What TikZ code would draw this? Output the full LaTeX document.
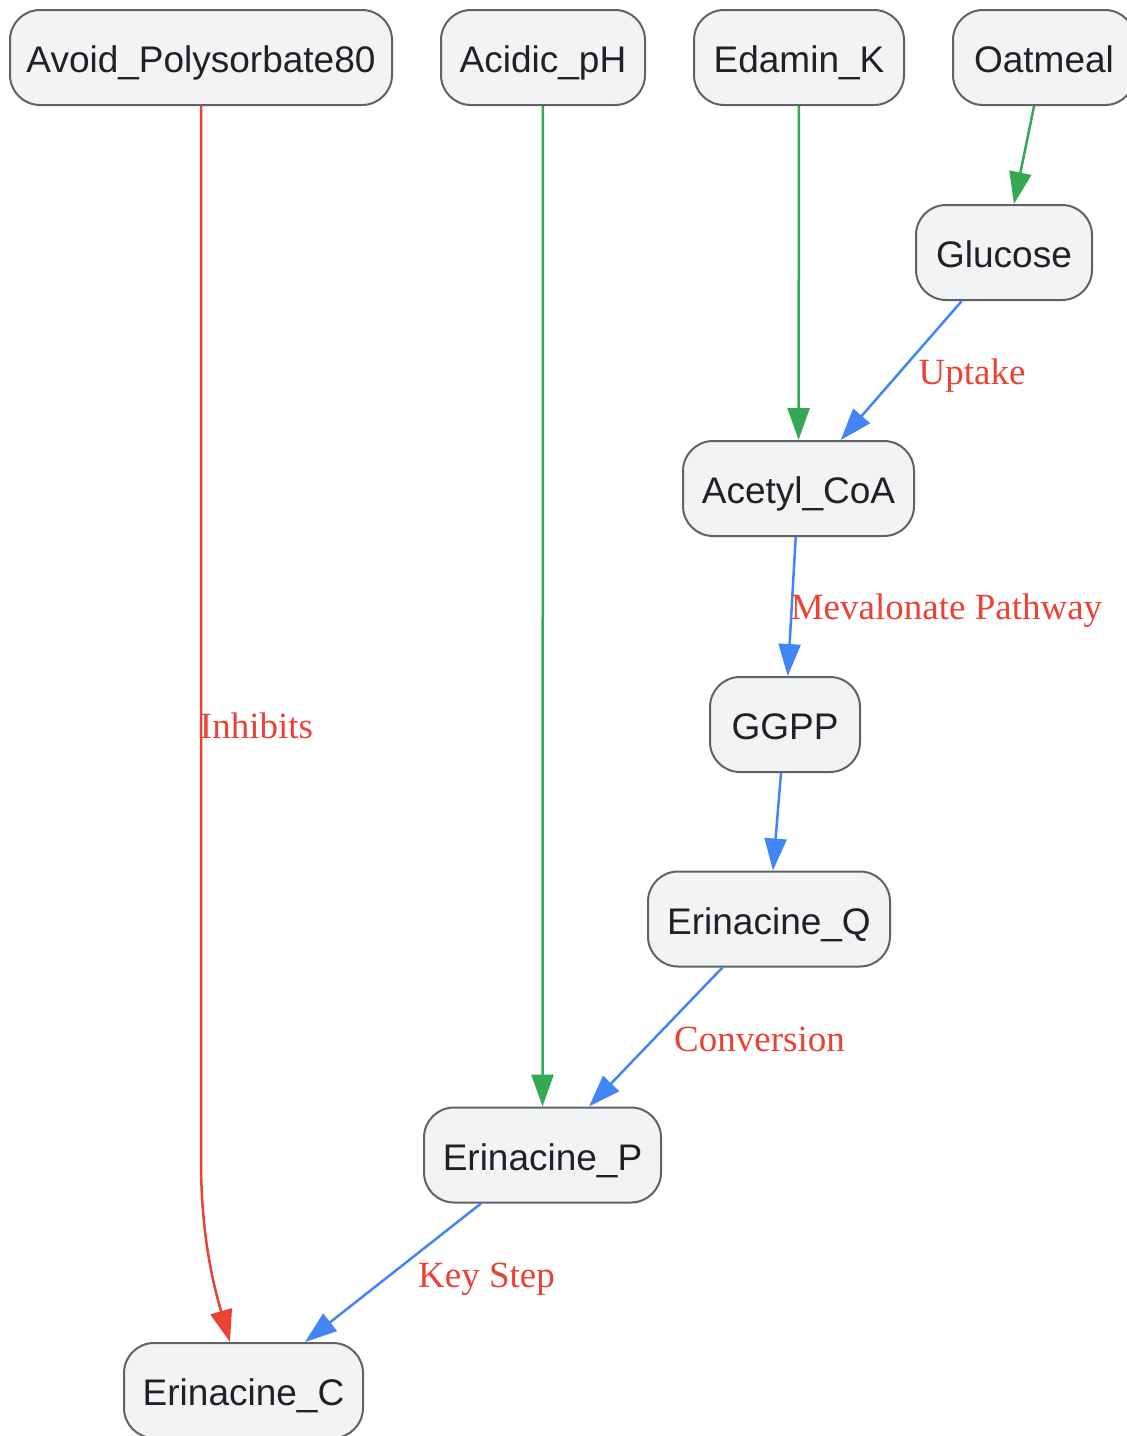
\documentclass[tikz,border=0pt]{standalone}
\usepackage{fontspec}
\setmainfont{Liberation Serif}
\newfontfamily\nodefont{Liberation Sans}
\usetikzlibrary{arrows.meta,calc}
\definecolor{nodefill}{HTML}{F2F3F5}
\definecolor{nodeline}{HTML}{5F6368}
\definecolor{nodetext}{HTML}{202124}
\definecolor{eblue}{HTML}{4285F4}
\definecolor{egreen}{HTML}{34A853}
\definecolor{ered}{HTML}{EA4335}
\tikzset{
  box/.style={draw=nodeline, fill=nodefill, line width=1pt, rounded corners=15pt,
    minimum height=47.5pt, inner sep=0pt, text=nodetext, text height=15pt, text depth=0pt,
    font=\nodefont\fontsize{18.5}{22}\selectfont},
  lab/.style={text=ered, font=\fontsize{18.5}{22}\selectfont, inner sep=0pt,
    text height=12.2pt, text depth=0pt},
  tip/.style={-{Triangle[length=16pt,width=11pt]}, line width=1.25pt},
  blueedge/.style={tip, draw=eblue},
  greenedge/.style={tip, draw=egreen},
  rededge/.style={tip, draw=ered},
}
\begin{document}
\begin{tikzpicture}[x=0.5pt,y=-0.5pt]
\useasboundingbox (0,0) rectangle (1127,1436);
\node[box, minimum width=191pt] (avoid) at (201,57.5) {Avoid\_Polysorbate80};
\node[box, minimum width=102pt] (acid) at (543,57.5) {Acidic\_pH};
\node[box, minimum width=105pt] (edamin) at (799,57.5) {Edamin\_K};
\node[box, minimum width=91pt] (oat) at (1044,57.5) {Oatmeal};
\node[box, minimum width=88pt] (glu) at (1004,252.5) {Glucose};
\node[box, minimum width=115.5pt] (acoa) at (798.5,488.5) {Acetyl\_CoA};
\node[box, minimum width=75pt] (ggpp) at (785,724.5) {GGPP};
\node[box, minimum width=121pt] (erq) at (769,919) {Erinacine\_Q};
\node[box, minimum width=118.5pt] (erp) at (542.5,1155) {Erinacine\_P};
\node[box, minimum width=119.5pt] (erc) at (243.5,1390.5) {Erinacine\_C};

\draw[greenedge] (acid) -- (erp);
\draw[greenedge] (edamin) -- (acoa);
\draw[greenedge] (oat) -- (glu);
\draw[blueedge] (glu) -- (acoa);
\draw[blueedge] (acoa) -- (ggpp);
\draw[blueedge] (ggpp) -- (erq);
\draw[blueedge] (erq) -- (erp);
\draw[blueedge] (erp) -- (erc);
\coordinate (bend) at (201,1160);
\draw[rededge] (avoid.south) -- (bend) .. controls (201,1240) and (215,1290) .. ($(erc.north)+(-13.5,0)$);

\node[lab] (l1) at (972,372) {Uptake};
\node[lab] (l2) at (946.5,607) {Mevalonate Pathway};
\node[lab] (l3) at (256.5,726) {Inhibits};
\node[lab] (l4) at (759.5,1039) {Conversion};
\node[lab] (l5) at (486.5,1275) {Key Step};
\end{tikzpicture}
\end{document}
